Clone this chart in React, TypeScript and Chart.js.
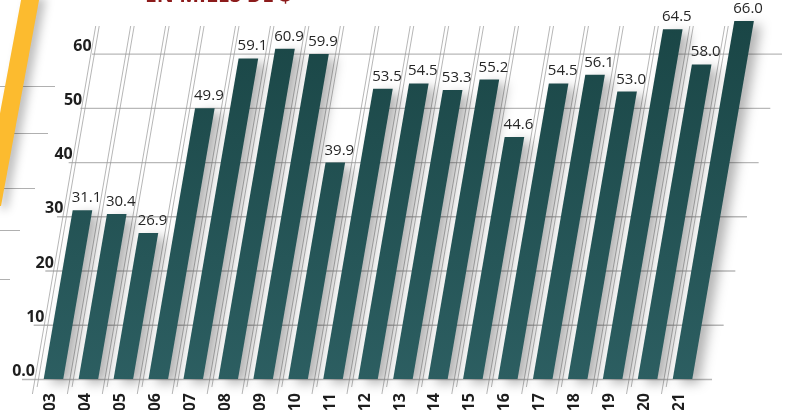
import React, { useEffect, useRef } from "react";
import { Chart, registerables } from "chart.js";

Chart.register(...registerables);

const years = ["03", "04", "05", "06", "07", "08", "09", "10", "11", "12", "13", "14", "15", "16", "17", "18", "19", "20", "21"];
const values = [31.1, 30.4, 26.9, 49.9, 59.1, 60.9, 59.9, 39.9, 53.5, 54.5, 53.3, 55.2, 44.6, 54.5, 56.1, 53.0, 64.5, 58.0, 66.0];
const yTickValues = [0, 10, 20, 30, 40, 50, 60];
const yTickLabels = ["0.0", "10", "20", "30", "40", "50", "60"];
const titleText = "EN MILES DE $";
const sideLineYs = [86, 133, 188, 230, 279];
const sideLineEnds = [55, 48, 35, 20, 10];

const SKEW = 0.172;
const FONT = '"Open Sans", "Noto Sans", sans-serif';

const skewPlugin = {
  id: "skewPlugin",
  beforeDatasetsDraw(chart: any) {
    const ctx = chart.ctx;
    const ys = chart.scales.y;
    const xs = chart.scales.x;
    const y0 = ys.getPixelForValue(0);
    ctx.save();
    ctx.strokeStyle = "#b8b8b8";
    ctx.lineWidth = 1.3;
    yTickValues.forEach((v) => {
      const y = ys.getPixelForValue(v);
      const d = y0 - y;
      const x1 = 22 + 0.215 * d;
      const x2 = Math.min(790, 712 + 0.215 * d);
      ctx.beginPath();
      ctx.moveTo(x1, y + 0.5);
      ctx.lineTo(x2, y + 0.5);
      ctx.stroke();
    });
    ctx.restore();

    ctx.save();
    ctx.transform(1, 0, -SKEW, 1, SKEW * y0, 0);
    const half = (xs.getPixelForValue(1) - xs.getPixelForValue(0)) / 2;
    ctx.strokeStyle = "#9a9a9a";
    ctx.lineWidth = 0.7;
    for (let i = 0; i <= years.length - 1; i++) {
      const bx = xs.getPixelForValue(i) - half + 1;
      [[-2, 394], [1.5, 387]].forEach(([off, bottom]) => {
        ctx.beginPath();
        ctx.moveTo(bx + off, 26);
        ctx.lineTo(bx + off, bottom);
        ctx.stroke();
      });
    }
    ctx.shadowColor = "rgba(0,0,0,0.3)";
    ctx.shadowBlur = 12;
    ctx.shadowOffsetX = 7;
    ctx.shadowOffsetY = 4;
  },
  afterDatasetsDraw(chart: any) {
    const ctx = chart.ctx;
    ctx.restore();
    const ys = chart.scales.y;
    const y0 = ys.getPixelForValue(0);
    const meta = chart.getDatasetMeta(0);
    ctx.save();
    ctx.fillStyle = "#262626";
    ctx.font = `15px ${FONT}`;
    ctx.textAlign = "center";
    ctx.textBaseline = "alphabetic";
    meta.data.forEach((el: any, i: number) => {
      const top = el.y;
      const cx = el.x + SKEW * (y0 - top);
      ctx.fillText(values[i].toFixed(1), cx + 4, top - 8);
    });
    ctx.restore();
  },
  afterDraw(chart: any) {
    const ctx = chart.ctx;
    const ys = chart.scales.y;
    const xs = chart.scales.x;
    const y0 = ys.getPixelForValue(0);
    ctx.save();
    ctx.fillStyle = "#1e1e1e";
    ctx.font = `bold 16px ${FONT}`;
    ctx.textAlign = "right";
    ctx.textBaseline = "alphabetic";
    yTickValues.forEach((v, i) => {
      const y = ys.getPixelForValue(v);
      const xr = 35 + 0.174 * (y0 - y);
      ctx.fillText(yTickLabels[i], xr, y - 3);
    });
    ctx.font = `bold 16px ${FONT}`;
    years.forEach((lab, i) => {
      const x = xs.getPixelForValue(i) - 3;
      ctx.save();
      ctx.translate(x, 393);
      ctx.rotate(-Math.PI / 2);
      ctx.textAlign = "right";
      ctx.textBaseline = "middle";
      ctx.fillText(lab, 0, 0);
      ctx.restore();
    });
    ctx.strokeStyle = "#b0b0b0";
    ctx.lineWidth = 1;
    sideLineYs.forEach((y, i) => {
      ctx.beginPath();
      ctx.moveTo(0, y + 0.5);
      ctx.lineTo(sideLineEnds[i], y + 0.5);
      ctx.stroke();
    });
    ctx.save();
    ctx.shadowColor = "rgba(0,0,0,0.25)";
    ctx.shadowBlur = 10;
    ctx.shadowOffsetX = 6;
    ctx.shadowOffsetY = 3;
    ctx.fillStyle = "#fcbb2f";
    ctx.beginPath();
    ctx.moveTo(22, -5);
    ctx.lineTo(40, -5);
    ctx.lineTo(1, 206);
    ctx.lineTo(-5, 206);
    ctx.lineTo(-5, 140);
    ctx.closePath();
    ctx.fill();
    ctx.restore();
    ctx.fillStyle = "#8c1b1b";
    ctx.font = `bold 21px ${FONT}`;
    ctx.textAlign = "left";
    ctx.textBaseline = "alphabetic";
    ctx.fillText(titleText, 145, 2, 154);
    ctx.restore();
  },
};

export default function App() {
  const ref = useRef<HTMLCanvasElement | null>(null);
  useEffect(() => {
    document.body.style.margin = "0";
    const canvas = ref.current;
    if (!canvas) return;
    const chart = new Chart(canvas, {
      type: "bar",
      data: {
        labels: years,
        datasets: [
          {
            data: values,
            backgroundColor: (c: any) => {
              const ch = c.chart;
              const ca = ch.chartArea;
              if (!ca) return "#225252";
              const g = ch.ctx.createLinearGradient(0, ca.top, 0, ca.bottom);
              g.addColorStop(0, "#1a4646");
              g.addColorStop(1, "#2c5e61");
              return g;
            },
            borderWidth: 0,
            barPercentage: 0.56,
            categoryPercentage: 1,
            clip: false as any,
          },
        ],
      },
      options: {
        animation: false,
        responsive: false,
        devicePixelRatio: 1,
        layout: { padding: { left: 36, right: 85, top: 21, bottom: 31 } },
        plugins: { legend: { display: false }, tooltip: { enabled: false } },
        scales: {
          x: { display: false },
          y: { display: false, min: 0, max: 66 },
        },
      },
      plugins: [skewPlugin],
    });
    return () => chart.destroy();
  }, []);
  return (
    <div style={{ position: "fixed", left: 0, top: 0, width: 785, height: 410, background: "#fff" }}>
      <canvas ref={ref} width={785} height={410} />
    </div>
  );
}
